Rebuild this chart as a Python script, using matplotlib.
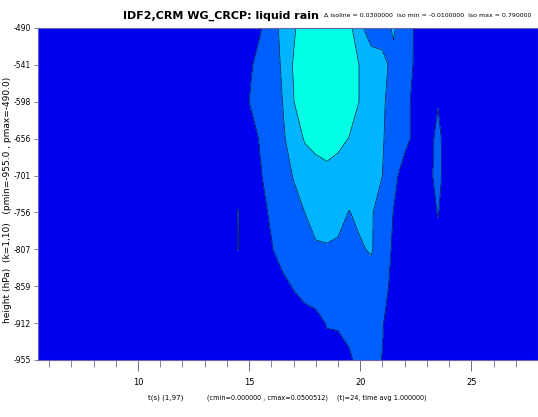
import numpy as np
import matplotlib
matplotlib.use("Agg")
import matplotlib.pyplot as plt

# x positions of the grid columns, model level index for rows
x_cols = [5.0, 13.5, 14.0, 14.5, 15.0, 15.5, 16.0, 16.5, 17.0, 17.5, 18.0, 18.5,
          19.0, 19.5, 20.0, 20.5, 21.0, 21.5, 22.0, 22.5, 23.0, 23.5, 24.0, 24.5, 28.0]
levels_idx = [0, 1, 2, 3, 4, 5, 6, 7, 8, 9]
level_labels = ["-490", "-541", "-598", "-656", "-701", "-756", "-807", "-859", "-912", "-955"]

# liquid rain values, one row per level
row0 = [0, 0, 0, 0, 0.004, 0.009, 0.016, 0.0223, 0.028, 0.038, 0.045, 0.048,
        0.044, 0.033, 0.022, 0.015, 0.017, 0.021, 0.014, 0.009, 0.003, 0, 0, 0, 0]
row1 = [0, 0, 0, 0.002, 0.008, 0.014, 0.018, 0.0205, 0.031, 0.042, 0.050, 0.052,
        0.048, 0.038, 0.029, 0.025, 0.022, 0.018, 0.013, 0.009, 0.003, 0.001, 0, 0, 0]
row2 = [0, 0, 0.001, 0.004, 0.010, 0.015, 0.018, 0.020, 0.0295, 0.041, 0.049, 0.051,
        0.047, 0.038, 0.029, 0.025, 0.021, 0.017, 0.012, 0.008, 0.004, 0.0093, 0.002, 0, 0]
row3 = [0, 0, 0.001, 0.004, 0.007, 0.0105, 0.016, 0.019, 0.023, 0.031, 0.036, 0.038,
        0.035, 0.0295, 0.026, 0.023, 0.0205, 0.017, 0.012, 0.008, 0.005, 0.013, 0.003, 0, 0]
row4 = [0, 0, 0.001, 0.005, 0.007, 0.0095, 0.0125, 0.016, 0.0205, 0.023, 0.022, 0.025,
        0.022, 0.025, 0.024, 0.022, 0.020, 0.012, 0.007, 0.005, 0.006, 0.0135, 0.003, 0, 0]
row5 = [0, 0.001, 0.004, 0.0105, 0.005, 0.008, 0.011, 0.014, 0.017, 0.020, 0.023, 0.025,
        0.023, 0.0197, 0.022, 0.021, 0.015, 0.0098, 0.005, 0.003, 0.005, 0.0105, 0.003, 0, 0]
row6 = [0, 0.001, 0.004, 0.0102, 0.005, 0.006, 0.0095, 0.013, 0.016, 0.018, 0.019, 0.019,
        0.0185, 0.018, 0.019, 0.021, 0.0135, 0.009, 0.004, 0.002, 0.002, 0.007, 0.002, 0, 0]
row7 = [0, 0, 0.002, 0.004, 0.004, 0.005, 0.006, 0.008, 0.0105, 0.013, 0.015, 0.016,
        0.016, 0.016, 0.016, 0.015, 0.0125, 0.008, 0.003, 0.001, 0.001, 0.003, 0.001, 0, 0]
row8 = [0, 0, 0.001, 0.002, 0.002, 0.003, 0.004, 0.005, 0.006, 0.0065, 0.007, 0.0105,
        0.0105, 0.012, 0.013, 0.013, 0.0105, 0.006, 0.002, 0.001, 0.001, 0.002, 0.001, 0, 0]
row9 = [0, 0, 0, 0.001, 0.001, 0.002, 0.003, 0.004, 0.005, 0.005, 0.006, 0.007,
        0.008, 0.009, 0.012, 0.012, 0.0098, 0.005, 0.002, 0.001, 0.001, 0.001, 0, 0, 0]

iso_levels = [-0.01, 0.01, 0.02, 0.03, 0.06]
fill_colors = ["#0000f0", "#0060ff", "#00b4ff", "#00ffe4"]

z = np.array([row0, row1, row2, row3, row4, row5, row6, row7, row8, row9])

fig = plt.figure(figsize=(5.38, 4.17), dpi=100)
ax = fig.add_axes([0.0706, 0.1367, 0.9294, 0.7962])
ax.set_facecolor(fill_colors[0])

ax.contourf(x_cols, levels_idx, z, levels=iso_levels, colors=fill_colors)
ax.contour(x_cols, levels_idx, z, levels=iso_levels[1:4], colors="#101040", linewidths=0.5)

ax.set_xlim(5.5, 28.0)
ax.set_ylim(9, 0)

ax.set_xticks([10, 15, 20, 25])
ax.set_xticklabels(["10", "15", "20", "25"])
ax.set_xticks(np.arange(6, 29, 1), minor=True)
ax.tick_params(axis="x", which="major", length=8, width=0.6, color="#555577",
               labelsize=6, pad=5)
ax.tick_params(axis="x", which="minor", length=5, width=0.5, color="#555577")

ax.set_yticks(levels_idx)
ax.set_yticklabels(level_labels)
ax.tick_params(axis="y", which="major", length=3, width=0.5, color="#555577",
               labelsize=5.5, pad=2)

for sp in ax.spines.values():
    sp.set_color("#6666aa")
    sp.set_linewidth(0.8)

fig.text(0.592, 0.962, "IDF2,CRM WG_CRCP: liquid rain", ha="right", va="center",
         fontsize=8, fontweight="bold")
fig.text(0.603, 0.962,
         "\u0394 isoline = 0.0300000  iso min = -0.0100000  iso max = 0.790000",
         ha="left", va="center", fontsize=4.5)

fig.text(0.275, 0.047, "t(s) (1,97)", ha="left", va="center", fontsize=5)
fig.text(0.385, 0.047, "(cmin=0.000000 , cmax=0.0500512)", ha="left", va="center",
         fontsize=4.7)
fig.text(0.627, 0.047, "(t)=24, time avg 1.000000)", ha="left", va="center",
         fontsize=4.7)

fig.text(0.014, 0.52, "height (hPa)  (k=1,10)   (pmin=-955.0 , pmax=-490.0)",
         rotation=90, ha="center", va="center", fontsize=6.5)

fig.savefig("out.png", dpi=100)
